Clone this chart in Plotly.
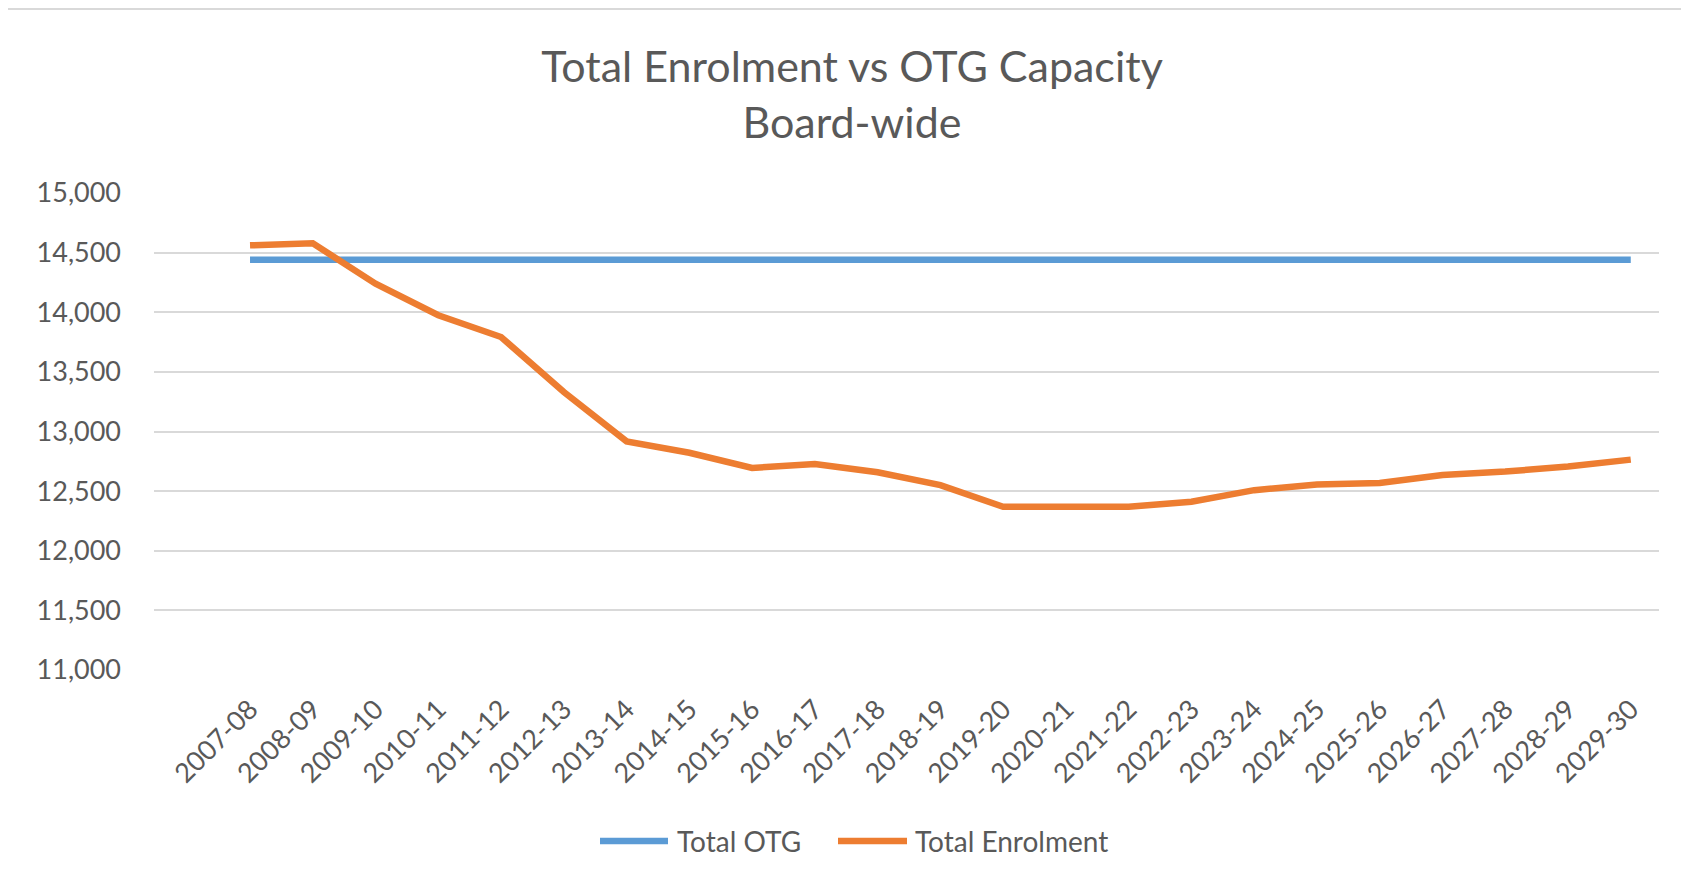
import plotly.graph_objects as go

years = ["2007-08", "2008-09", "2009-10", "2010-11", "2011-12", "2012-13", "2013-14",
         "2014-15", "2015-16", "2016-17", "2017-18", "2018-19", "2019-20", "2020-21",
         "2021-22", "2022-23", "2023-24", "2024-25", "2025-26", "2026-27", "2027-28",
         "2028-29", "2029-30"]
total_otg = [14440] * len(years)
total_enrolment = [14561, 14578, 14240, 13975, 13792, 13331, 12917, 12822, 12694, 12728,
                   12658, 12550, 12369, 12369, 12369, 12411, 12508, 12556, 12569, 12636,
                   12664, 12706, 12764]
y_ticks = [11000, 11500, 12000, 12500, 13000, 13500, 14000, 14500, 15000]
series_names = ["Total OTG", "Total Enrolment"]
series_colors = ["#5B9BD5", "#ED7D31"]

W, H = 1689, 884
OFF = 8  # page body margin offset
# plot area in viewport pixels: left 154, right 1659, top 193, bottom 670
L = 154 - OFF
T = 193 - OFF
R = W - (1659 - OFF)
B = H - (670 - OFF)
pw, ph = W - L - R, H - T - B


def px_x(p):
    """viewport x pixel -> paper"""
    return (p - OFF - L) / pw


def px_y(p):
    """viewport y pixel -> paper"""
    return 1 - (p - OFF - T) / ph


FONT = "Lato, 'Open Sans', sans-serif"
GREY = "#595959"

fig = go.Figure()
for name, color, vals in zip(series_names, series_colors, [total_otg, total_enrolment]):
    fig.add_trace(go.Scatter(x=years, y=vals, name=name, mode="lines",
                             line=dict(color=color, width=6.5), showlegend=False))

shapes = [
    dict(type="rect", xref="paper", yref="paper", x0=px_x(OFF), x1=px_x(W + OFF),
         y0=px_y(OFF), y1=px_y(OFF + 2),
         fillcolor="#D9D9D9", line=dict(width=0), layer="below"),
]
annotations = []

# custom legend (long line swatches like the original)
legend_y = 841
legend_items = [(600, 668, 675), (838, 907, 913)]
for (sx0, sx1, tx), name, color in zip(legend_items, series_names, series_colors):
    shapes.append(dict(type="line", xref="paper", yref="paper",
                       x0=px_x(sx0), x1=px_x(sx1), y0=px_y(legend_y), y1=px_y(legend_y),
                       line=dict(color=color, width=6.5)))
    annotations.append(dict(text=name, xref="paper", yref="paper", x=px_x(tx), y=px_y(legend_y),
                            xanchor="left", yanchor="middle", showarrow=False,
                            font=dict(size=28, color=GREY, family=FONT)))

fig.update_layout(
    width=W, height=H,
    margin=dict(l=L, r=R, t=T, b=B, autoexpand=False),
    paper_bgcolor="white", plot_bgcolor="white",
    font=dict(family=FONT, color=GREY, size=27),
    title=dict(text="Total Enrolment vs OTG Capacity<br>Board-wide",
               x=px_x(852), xref="paper", xanchor="center",
               y=1 - (82 - OFF) / H, yref="container", yanchor="middle",
               font=dict(family=FONT, size=43, color=GREY)),
    xaxis=dict(type="category", range=[-1.53, 22.45], showgrid=False, showline=False,
               zeroline=False, ticks="", tickangle=-45, ticklabelstandoff=17,
               tickfont=dict(size=27, color=GREY)),
    yaxis=dict(range=[11000, 15000], tickvals=y_ticks, tickformat=",d", showgrid=True,
               gridcolor="#D9D9D9", gridwidth=1.5, zeroline=False, showline=False, ticks="",
               ticklabelstandoff=32, tickfont=dict(size=27, color=GREY)),
    shapes=shapes,
    annotations=annotations,
    showlegend=False,
)

fig.write_html("out.html")
